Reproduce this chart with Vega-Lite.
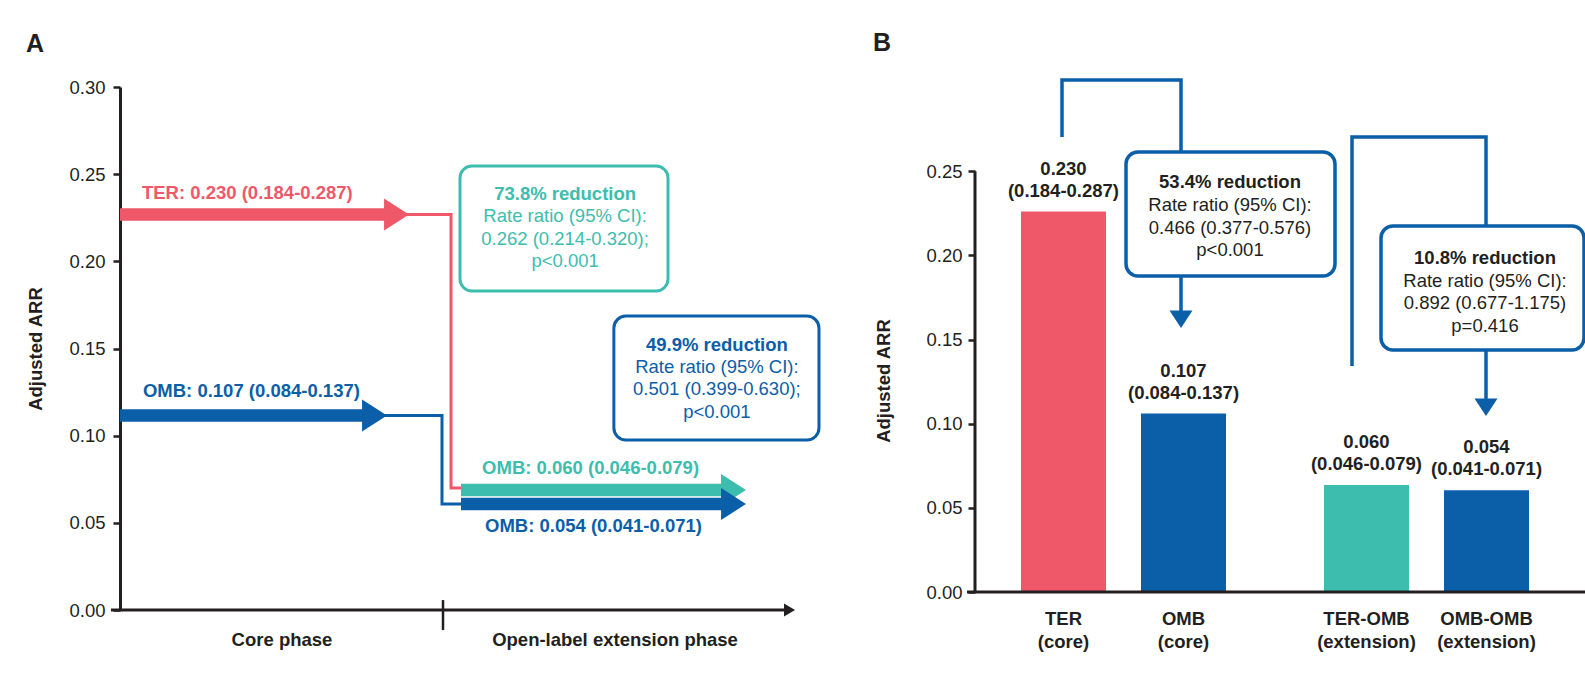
{
  "$schema": "https://vega.github.io/schema/vega-lite/v6.json",
  "background": "white",
  "padding": {"left": 26, "top": 30, "right": 0, "bottom": 0},
  "bounds": "flush",
  "spacing": 190,
  "config": {
    "view": {"stroke": null},
    "font": "Liberation Sans",
    "axis": {"labelFont": "Liberation Sans", "labelFontSize": 18.5, "labelColor": "#231f20", "titleFont": "Liberation Sans", "titleFontSize": 18.5, "titleFontWeight": "bold", "titleColor": "#231f20", "tickColor": "#231f20", "tickWidth": 2.5, "tickSize": 7, "domainColor": "#231f20", "domainWidth": 3, "grid": false},
    "title": {"font": "Liberation Sans", "fontSize": 25, "fontWeight": "bold", "color": "#231f20", "anchor": "start", "frame": "group", "baseline": "alphabetic"}
  },
  "hconcat": [
    {
      "width": 665,
      "height": 523,
      "title": {"text": "A", "dx": -94, "offset": 21},
      "layer": [
        {
          "data": {"values": [
            {"grp": "TER", "k": 1, "px": 0.88, "arr": 0.2269},
            {"grp": "TER", "k": 2, "px": 1.0248, "arr": 0.2269},
            {"grp": "TER", "k": 3, "px": 1.0248, "arr": 0.07},
            {"grp": "TER", "k": 4, "px": 1.06, "arr": 0.07},
            {"grp": "OMB", "k": 1, "px": 0.8, "arr": 0.1116},
            {"grp": "OMB", "k": 2, "px": 0.9969, "arr": 0.1116},
            {"grp": "OMB", "k": 3, "px": 0.9969, "arr": 0.0608},
            {"grp": "OMB", "k": 4, "px": 1.06, "arr": 0.0608}
          ]},
          "mark": {"type": "line", "strokeWidth": 3, "strokeJoin": "miter", "strokeCap": "butt"},
          "encoding": {
            "x": {"field": "px", "type": "quantitative", "scale": {"domain": [0, 2.0588], "nice": false, "zero": false}, "axis": null},
            "y": {"field": "arr", "type": "quantitative", "scale": {"domain": [0, 0.3], "nice": false, "zero": false}, "axis": {"values": [0, 0.05, 0.1, 0.15, 0.2, 0.25, 0.3], "format": ".2f", "title": "Adjusted ARR", "labelPadding": 8, "titlePadding": 23}},
            "color": {"field": "grp", "type": "nominal", "scale": {"domain": ["TER", "OMB", "TER-OMB", "OMB-OMB"], "range": ["#EF5869", "#0B5EA8", "#3DBDAD", "#0B5EA8"]}, "legend": null},
            "order": {"field": "k", "type": "quantitative"}
          }
        },
        {
          "data": {"values": [{}]},
          "mark": {"type": "rule", "strokeWidth": 3, "color": "#231f20"},
          "encoding": {
            "x": {"datum": -0.028, "type": "quantitative"},
            "x2": {"datum": 2.056},
            "y": {"datum": 0, "type": "quantitative"}
          }
        },
        {
          "data": {"values": [{}]},
          "mark": {"type": "rule", "strokeWidth": 2.5, "color": "#231f20"},
          "encoding": {
            "x": {"datum": 1, "type": "quantitative"},
            "y": {"datum": 0.0057, "type": "quantitative"},
            "y2": {"datum": -0.0115}
          }
        },
        {
          "data": {"values": [{}]},
          "mark": {"type": "point", "filled": true, "opacity": 1, "color": "#231f20", "shape": "M-0.85,-1L0.85,0L-0.85,1Z", "size": 169, "strokeWidth": 0},
          "encoding": {
            "x": {"datum": 2.0728, "type": "quantitative"},
            "y": {"datum": 0, "type": "quantitative"}
          }
        },
        {
          "data": {"name": "arrowsA", "values": [
            {"grp": "TER", "x0": 0, "x1": 0.8204, "arr": 0.2269},
            {"grp": "OMB", "x0": 0, "x1": 0.7523, "arr": 0.1116},
            {"grp": "TER-OMB", "x0": 1.0557, "x1": 1.8638, "arr": 0.0688},
            {"grp": "OMB-OMB", "x0": 1.0557, "x1": 1.8638, "arr": 0.0608}
          ]},
          "layer": [
            {
              "mark": {"type": "rule", "strokeWidth": 12.5, "strokeCap": "butt"},
              "encoding": {
                "x": {"field": "x0", "type": "quantitative"},
                "x2": {"field": "x1"},
                "y": {"field": "arr", "type": "quantitative"},
                "color": {"field": "grp", "type": "nominal", "scale": {"domain": ["TER", "OMB", "TER-OMB", "OMB-OMB"], "range": ["#EF5869", "#0B5EA8", "#3DBDAD", "#0B5EA8"]}, "legend": null}
              }
            },
            {
              "mark": {"type": "point", "filled": true, "opacity": 1, "shape": "M-0.06,-1L1.5,0L-0.06,1Z", "size": 1024, "strokeWidth": 0},
              "encoding": {
                "x": {"field": "x1", "type": "quantitative"},
                "y": {"field": "arr", "type": "quantitative"},
                "color": {"field": "grp", "type": "nominal", "scale": {"domain": ["TER", "OMB", "TER-OMB", "OMB-OMB"], "range": ["#EF5869", "#0B5EA8", "#3DBDAD", "#0B5EA8"]}, "legend": null}
              }
            }
          ]
        },
        {
          "data": {"values": [
            {"grp": "TER", "txt": "TER: 0.230 (0.184-0.287)", "tx": 0.068, "ty": 0.2392},
            {"grp": "OMB", "txt": "OMB: 0.107 (0.084-0.137)", "tx": 0.071, "ty": 0.1256},
            {"grp": "TER-OMB", "txt": "OMB: 0.060 (0.046-0.079)", "tx": 1.121, "ty": 0.0815},
            {"grp": "OMB-OMB", "txt": "OMB: 0.054 (0.041-0.071)", "tx": 1.13, "ty": 0.0482}
          ]},
          "mark": {"type": "text", "align": "left", "baseline": "middle", "fontSize": 18.5, "fontWeight": "bold"},
          "encoding": {
            "x": {"field": "tx", "type": "quantitative"},
            "y": {"field": "ty", "type": "quantitative"},
            "text": {"field": "txt"},
            "color": {"field": "grp", "type": "nominal", "scale": {"domain": ["TER", "OMB", "TER-OMB", "OMB-OMB"], "range": ["#EF5869", "#0B5EA8", "#3DBDAD", "#0B5EA8"]}, "legend": null}
          }
        },
        {
          "data": {"values": [
            {"grp": "TER-OMB", "bx0": 1.0526, "bx1": 1.6966, "by0": 0.183, "by1": 0.2547, "cx": 1.378, "head": "73.8% reduction", "hy": 0.2386, "body": "Rate ratio (95% CI):\n0.262 (0.214-0.320);\np<0.001", "my": 0.226},
            {"grp": "OMB-OMB", "bx0": 1.529, "bx1": 2.164, "by0": 0.0975, "by1": 0.1686, "cx": 1.848, "head": "49.9% reduction", "hy": 0.152, "body": "Rate ratio (95% CI):\n0.501 (0.399-0.630);\np<0.001", "my": 0.1394}
          ]},
          "layer": [
            {
              "mark": {"type": "rect", "fill": "white", "strokeWidth": 3, "cornerRadius": 12},
              "encoding": {
                "x": {"field": "bx0", "type": "quantitative"},
                "x2": {"field": "bx1"},
                "y": {"field": "by0", "type": "quantitative"},
                "y2": {"field": "by1"},
                "stroke": {"field": "grp", "type": "nominal", "scale": {"domain": ["TER", "OMB", "TER-OMB", "OMB-OMB"], "range": ["#EF5869", "#0B5EA8", "#3DBDAD", "#0B5EA8"]}, "legend": null}
              }
            },
            {
              "mark": {"type": "text", "align": "center", "baseline": "middle", "fontSize": 18.5, "fontWeight": "bold"},
              "encoding": {
                "x": {"field": "cx", "type": "quantitative"},
                "y": {"field": "hy", "type": "quantitative"},
                "text": {"field": "head"},
                "color": {"field": "grp", "type": "nominal", "scale": {"domain": ["TER", "OMB", "TER-OMB", "OMB-OMB"], "range": ["#EF5869", "#0B5EA8", "#3DBDAD", "#0B5EA8"]}, "legend": null}
              }
            },
            {
              "mark": {"type": "text", "align": "center", "baseline": "middle", "fontSize": 18.5, "lineBreak": "\n", "lineHeight": 22.5},
              "encoding": {
                "x": {"field": "cx", "type": "quantitative"},
                "y": {"field": "my", "type": "quantitative"},
                "text": {"field": "body"},
                "color": {"field": "grp", "type": "nominal", "scale": {"domain": ["TER", "OMB", "TER-OMB", "OMB-OMB"], "range": ["#EF5869", "#0B5EA8", "#3DBDAD", "#0B5EA8"]}, "legend": null}
              }
            }
          ]
        },
        {
          "data": {"values": [
            {"ph": "Core phase", "phx": 0.5015},
            {"ph": "Open-label extension phase", "phx": 1.5325}
          ]},
          "mark": {"type": "text", "align": "center", "baseline": "middle", "fontSize": 18.5, "fontWeight": "bold", "color": "#231f20"},
          "encoding": {
            "x": {"field": "phx", "type": "quantitative"},
            "y": {"datum": -0.0172, "type": "quantitative"},
            "text": {"field": "ph"}
          }
        }
      ]
    },
    {
      "width": 610,
      "height": 505,
      "title": {"text": "B", "dx": -102, "offset": 17},
      "layer": [
        {
          "data": {"values": [
            {"phase": "Core", "arm": "TER", "grp": "TER", "arr": 0.226, "val": "0.230\n(0.184-0.287)", "cat": "TER\n(core)"},
            {"phase": "Core", "arm": "OMB", "grp": "OMB", "arr": 0.106, "val": "0.107\n(0.084-0.137)", "cat": "OMB\n(core)"},
            {"phase": "Extension", "arm": "TER", "grp": "TER-OMB", "arr": 0.0635, "val": "0.060\n(0.046-0.079)", "cat": "TER-OMB\n(extension)"},
            {"phase": "Extension", "arm": "OMB", "grp": "OMB-OMB", "arr": 0.0605, "val": "0.054\n(0.041-0.071)", "cat": "OMB-OMB\n(extension)"}
          ]},
          "encoding": {
            "x": {"field": "phase", "type": "nominal", "scale": {"type": "band", "domain": ["Core", "Extension"], "paddingInner": 0.1, "paddingOuter": 0.0566, "align": 0.354}, "axis": null},
            "xOffset": {"field": "arm", "type": "nominal", "scale": {"domain": ["TER", "OMB"], "paddingInner": 0.2917, "paddingOuter": 0.282}},
            "y": {"field": "arr", "type": "quantitative", "scale": {"domain": [0, 0.3], "nice": false, "zero": false}, "axis": {"values": [0, 0.05, 0.1, 0.15, 0.2, 0.25], "format": ".2f", "title": "Adjusted ARR", "domain": false, "labelPadding": 6, "titlePadding": 32, "titleY": 293.5}}
          },
          "layer": [
            {
              "mark": {"type": "bar"},
              "encoding": {
                "color": {"field": "grp", "type": "nominal", "scale": {"domain": ["TER", "OMB", "TER-OMB", "OMB-OMB"], "range": ["#EF5869", "#0B5EA8", "#3DBDAD", "#0B5EA8"]}, "legend": null}
              }
            },
            {
              "mark": {"type": "text", "align": "center", "baseline": "middle", "dy": -43, "fontSize": 18.5, "fontWeight": "bold", "lineBreak": "\n", "lineHeight": 22, "color": "#231f20"},
              "encoding": {"text": {"field": "val"}}
            },
            {
              "mark": {"type": "text", "align": "center", "baseline": "top", "dy": 18, "fontSize": 18.5, "fontWeight": "bold", "lineBreak": "\n", "lineHeight": 23, "color": "#231f20"},
              "encoding": {"text": {"field": "cat"}, "y": {"datum": 0, "type": "quantitative"}}
            }
          ]
        },
        {
          "layer": [
            {
              "data": {"values": [
                {"cmp": "core", "k": 1, "lx": 0.87, "ly": 0.2703},
                {"cmp": "core", "k": 2, "lx": 0.87, "ly": 0.3042},
                {"cmp": "core", "k": 3, "lx": 2.06, "ly": 0.3042},
                {"cmp": "core", "k": 4, "lx": 2.06, "ly": 0.2614},
                {"cmp": "ext", "k": 1, "lx": 3.77, "ly": 0.1343},
                {"cmp": "ext", "k": 2, "lx": 3.77, "ly": 0.2703},
                {"cmp": "ext", "k": 3, "lx": 5.11, "ly": 0.2703},
                {"cmp": "ext", "k": 4, "lx": 5.11, "ly": 0.2174}
              ]},
              "mark": {"type": "line", "strokeWidth": 3.5, "strokeJoin": "miter", "strokeCap": "butt", "color": "#0B5EA8"},
              "encoding": {
                "x": {"field": "lx", "type": "quantitative", "scale": {"domain": [0, 6.1], "nice": false, "zero": false}, "axis": null},
                "y": {"field": "ly", "type": "quantitative"},
                "detail": {"field": "cmp"},
                "order": {"field": "k", "type": "quantitative"}
              }
            },
            {
              "data": {"values": [{}]},
              "mark": {"type": "rule", "strokeWidth": 3, "color": "#231f20"},
              "encoding": {
                "x": {"datum": 0, "type": "quantitative"},
                "y": {"datum": 0, "type": "quantitative"},
                "y2": {"datum": 0.25}
              }
            },
            {
              "data": {"values": [{}]},
              "mark": {"type": "rule", "strokeWidth": 3, "color": "#231f20"},
              "encoding": {
                "x": {"datum": -0.08, "type": "quantitative"},
                "x2": {"datum": 6.1},
                "y": {"datum": 0, "type": "quantitative"}
              }
            },
            {
              "data": {"values": [
                {"cmp": "core", "ax": 2.06, "ay0": 0.1877, "ay1": 0.1669},
                {"cmp": "ext", "ax": 5.11, "ay0": 0.1438, "ay1": 0.1147}
              ]},
              "layer": [
                {
                  "mark": {"type": "rule", "strokeWidth": 3.5, "color": "#0B5EA8"},
                  "encoding": {
                    "x": {"field": "ax", "type": "quantitative"},
                    "y": {"field": "ay0", "type": "quantitative"},
                    "y2": {"field": "ay1"}
                  }
                },
                {
                  "mark": {"type": "point", "filled": true, "opacity": 1, "color": "#0B5EA8", "shape": "M-1,-0.04L1,-0.04L0,1.48Z", "size": 529, "strokeWidth": 0},
                  "encoding": {
                    "x": {"field": "ax", "type": "quantitative"},
                    "y": {"field": "ay1", "type": "quantitative"}
                  }
                }
              ]
            },
            {
              "data": {"values": [
                {"cmp": "core", "bx0": 1.51, "bx1": 3.6, "by0": 0.1877, "by1": 0.2614, "cx": 2.55, "head": "53.4% reduction", "hy": 0.2436, "body": "Rate ratio (95% CI):\n0.466 (0.377-0.576)\np<0.001", "my": 0.2299},
                {"cmp": "ext", "bx0": 4.06, "bx1": 6.09, "by0": 0.1438, "by1": 0.2174, "cx": 5.1, "head": "10.8% reduction", "hy": 0.1984, "body": "Rate ratio (95% CI):\n0.892 (0.677-1.175)\np=0.416", "my": 0.1848}
              ]},
              "layer": [
                {
                  "mark": {"type": "rect", "fill": "white", "stroke": "#0B5EA8", "strokeWidth": 3.5, "cornerRadius": 12},
                  "encoding": {
                    "x": {"field": "bx0", "type": "quantitative"},
                    "x2": {"field": "bx1"},
                    "y": {"field": "by0", "type": "quantitative"},
                    "y2": {"field": "by1"}
                  }
                },
                {
                  "mark": {"type": "text", "align": "center", "baseline": "middle", "fontSize": 18.5, "fontWeight": "bold", "color": "#231f20"},
                  "encoding": {
                    "x": {"field": "cx", "type": "quantitative"},
                    "y": {"field": "hy", "type": "quantitative"},
                    "text": {"field": "head"}
                  }
                },
                {
                  "mark": {"type": "text", "align": "center", "baseline": "middle", "fontSize": 18.5, "lineBreak": "\n", "lineHeight": 22.5, "color": "#231f20"},
                  "encoding": {
                    "x": {"field": "cx", "type": "quantitative"},
                    "y": {"field": "my", "type": "quantitative"},
                    "text": {"field": "body"}
                  }
                }
              ]
            }
          ]
        }
      ],
      "resolve": {"scale": {"x": "independent"}}
    }
  ]
}
